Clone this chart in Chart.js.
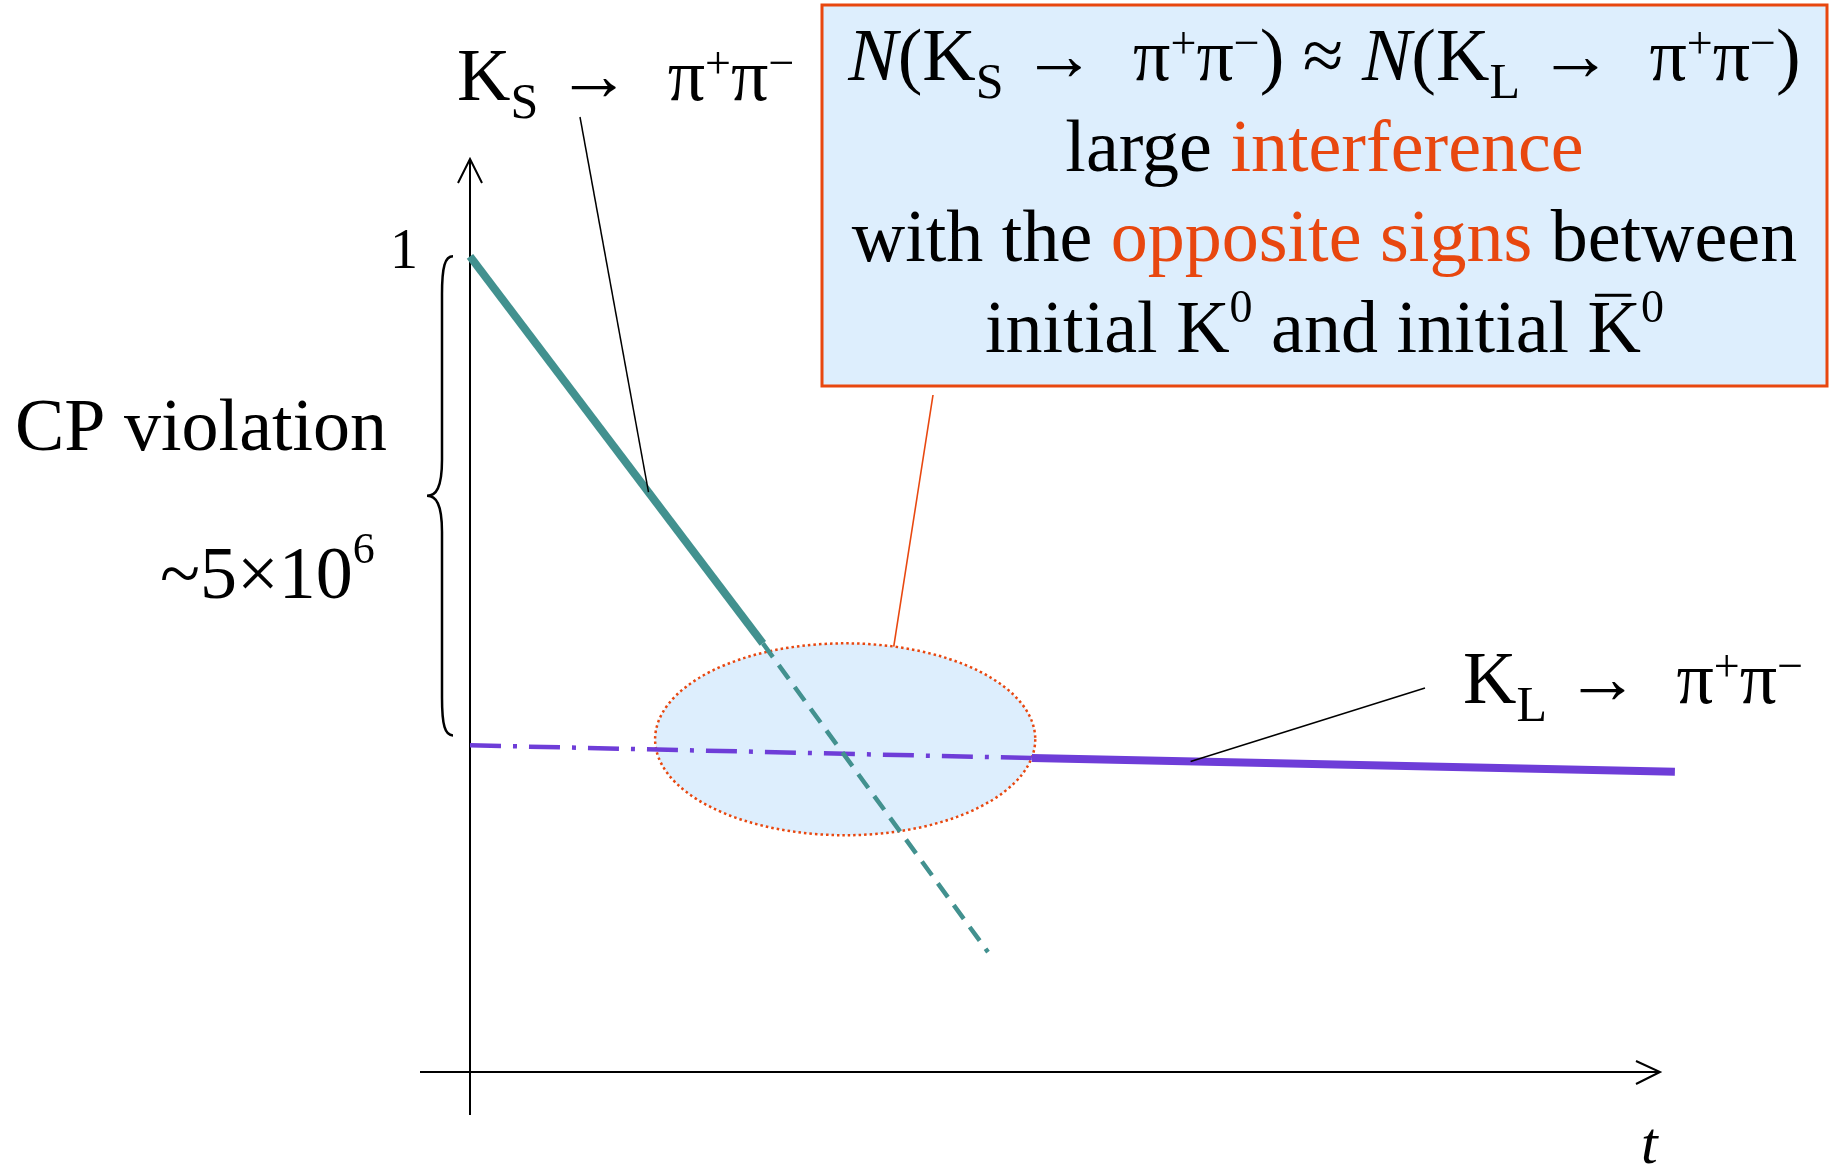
<!DOCTYPE html>
<html lang="en">
<head>
    <meta charset="UTF-8">
    <title>K_S and K_L decays to two pions</title>
    <script src="https://cdn.jsdelivr.net/npm/chart.js"></script>
    <style>
        html, body {
            margin: 0;
            background: #ffffff;
        }
        canvas {
            display: block;
        }
    </style>
</head>
<body>
    <canvas id="decayChart" width="1829" height="1166"></canvas>

    <script>
        // proper time in units of the K_S lifetime, rate relative to K_S at t = 0
        const ksTime = [0, 8.86];
        const ksRate = [1, 1.6e-4];
        const ksTailTime = [8.86, 15.67];
        const ksTailRate = [1.6e-4, 1.5e-7];
        const klEarlyTime = [0, 17.0];
        const klEarlyRate = [1.6e-5, 1.2e-5];
        const klLateTime = [17.0, 36.45];
        const klLateRate = [1.2e-5, 8.8e-6];

        // interference region and the CP violation span
        const overlapTime = [5.6, 17.1];
        const overlapRate = [1.6e-4, 2.1e-6];
        const braceRate = [1, 2.0e-5];

        // where the label leaders touch the curves
        const ksLeaderTime = 5.4;
        const klLeaderTime = 21.8;

        const TEAL = '#42918f';
        const PURPLE = '#6e3dd8';
        const ORANGE = '#e8470f';
        const BOX_FILL = '#ddeefd';
        const SERIF = '"Liberation Serif", "Times New Roman", serif';

        const BIG = 74, SUB = 50, SUP = 46;

        const toPoints = (xs, ys) => xs.map((x, i) => ({ x: x, y: ys[i] }));

        // text runs: plain, subscript, superscript
        const tx = (t, extra) => Object.assign({ t: t, size: BIG }, extra || {});
        const sb = t => ({ t: t, size: SUB, dy: 18 });
        const sp = (t, dy) => ({ t: t, size: SUP, dy: dy || -22 });

        function runFont(r) {
            return (r.italic ? 'italic ' : '') + r.size + 'px ' + SERIF;
        }

        function drawRuns(ctx, runs, x, y, align) {
            let total = 0;
            runs.forEach(r => {
                ctx.font = runFont(r);
                total += ctx.measureText(r.t).width;
            });
            let cx = align === 'center' ? x - total / 2 : align === 'right' ? x - total : x;
            runs.forEach(r => {
                ctx.font = runFont(r);
                ctx.fillStyle = r.color || '#000';
                const w = ctx.measureText(r.t).width;
                ctx.fillText(r.t, cx, y + (r.dy || 0));
                if (r.bar) {
                    ctx.fillRect(cx + w * 0.14, y - r.size * 0.78, w * 0.68, 3);
                }
                cx += w;
            });
        }

        const pionPair = [tx(' \u2192  '), tx('\u03c0'), sp('+'), tx('\u03c0'), sp('\u2212')];

        const ksLabel = [tx('K'), sb('S')].concat(pionPair);
        const klLabel = [tx('K'), sb('L')].concat(pionPair);

        const boxLines = [
            [tx('N', { italic: true }), tx('(K'), sb('S')].concat(pionPair, [tx(') \u2248 '),
                tx('N', { italic: true }), tx('(K'), sb('L')], pionPair, [tx(')')]),
            [tx('large '), tx('interference', { color: ORANGE })],
            [tx('with the '), tx('opposite signs', { color: ORANGE }), tx(' between')],
            [tx('initial K'), sp('0', -30), tx(' and initial '), tx('K', { bar: true }), sp('0', -30)]
        ];

        function lerp(a, b, f) {
            return a + (b - a) * f;
        }

        // pixel position on a straight two-point segment at time t
        function onSegment(xs, ys, scales, t) {
            const x0 = scales.x.getPixelForValue(xs[0]), x1 = scales.x.getPixelForValue(xs[1]);
            const y0 = scales.y.getPixelForValue(ys[0]), y1 = scales.y.getPixelForValue(ys[1]);
            const px = scales.x.getPixelForValue(t);
            return { x: px, y: lerp(y0, y1, (px - x0) / (x1 - x0)) };
        }

        function line(ctx, x0, y0, x1, y1) {
            ctx.beginPath();
            ctx.moveTo(x0, y0);
            ctx.lineTo(x1, y1);
            ctx.stroke();
        }

        function overlapEllipse(scales) {
            const l = scales.x.getPixelForValue(overlapTime[0]);
            const r = scales.x.getPixelForValue(overlapTime[1]);
            const t = scales.y.getPixelForValue(overlapRate[0]);
            const b = scales.y.getPixelForValue(overlapRate[1]);
            return { cx: (l + r) / 2, cy: (t + b) / 2, rx: (r - l) / 2, ry: (b - t) / 2 };
        }

        const diagramPlugin = {
            id: 'diagram',
            beforeDatasetsDraw(chart) {
                const ctx = chart.ctx;
                const area = chart.chartArea;
                const e = overlapEllipse(chart.scales);

                ctx.save();
                // shaded interference region
                ctx.beginPath();
                ctx.ellipse(e.cx, e.cy, e.rx, e.ry, 0, 0, Math.PI * 2);
                ctx.fillStyle = BOX_FILL;
                ctx.fill();
                ctx.setLineDash([2.5, 3]);
                ctx.lineWidth = 2.5;
                ctx.strokeStyle = ORANGE;
                ctx.stroke();
                ctx.setLineDash([]);

                // axes with open arrow heads
                ctx.strokeStyle = '#000';
                ctx.lineWidth = 2;
                line(ctx, area.left, area.top, area.left, area.bottom + 43);
                line(ctx, area.left - 50, area.bottom, area.right, area.bottom);
                ctx.beginPath();
                ctx.moveTo(area.left - 12, area.top + 24);
                ctx.lineTo(area.left, area.top);
                ctx.lineTo(area.left + 12, area.top + 24);
                ctx.moveTo(area.right - 24, area.bottom - 11);
                ctx.lineTo(area.right, area.bottom);
                ctx.lineTo(area.right - 24, area.bottom + 12);
                ctx.stroke();
                ctx.restore();
            },
            afterDatasetsDraw(chart) {
                const ctx = chart.ctx;
                const area = chart.chartArea;
                const scales = chart.scales;
                const e = overlapEllipse(scales);

                ctx.save();
                ctx.textBaseline = 'alphabetic';

                // axis labels
                const yOne = scales.y.getPixelForValue(1);
                drawRuns(ctx, [{ t: '1', size: 56 }], area.left - 52, yOne + 12, 'right');
                drawRuns(ctx, [{ t: 't', size: 60, italic: true }], area.right - 19, 1163, 'left');

                // brace spanning the CP violating ratio
                const bTop = scales.y.getPixelForValue(braceRate[0]);
                const bBot = scales.y.getPixelForValue(braceRate[1]);
                const bMid = (bTop + bBot) / 2;
                const stem = area.left - 28, tip = area.left - 17, cusp = area.left - 43;
                ctx.strokeStyle = '#000';
                ctx.lineWidth = 2.5;
                ctx.beginPath();
                ctx.moveTo(tip, bTop);
                ctx.bezierCurveTo(stem + 3, bTop, stem, bTop + 10, stem, bTop + 38);
                ctx.lineTo(stem, bMid - 36);
                ctx.bezierCurveTo(stem, bMid - 8, stem - 6, bMid, cusp, bMid);
                ctx.bezierCurveTo(stem - 6, bMid, stem, bMid + 8, stem, bMid + 36);
                ctx.lineTo(stem, bBot - 38);
                ctx.bezierCurveTo(stem, bBot - 10, stem + 3, bBot, tip, bBot);
                ctx.stroke();

                drawRuns(ctx, [tx('CP violation')], 15, 450, 'left');
                drawRuns(ctx, [tx('~5\u00d710'), { t: '6', size: 44, dy: -35 }], 160, 598, 'left');

                // decay mode labels with leaders
                drawRuns(ctx, ksLabel, 457, 100, 'left');
                drawRuns(ctx, klLabel, 1463, 703, 'left');
                ctx.lineWidth = 1.5;
                const ksHit = onSegment(ksTime, ksRate, scales, ksLeaderTime);
                line(ctx, 580, 117, ksHit.x, ksHit.y);
                const klHit = onSegment(klLateTime, klLateRate, scales, klLeaderTime);
                line(ctx, 1425, 688, klHit.x, klHit.y);

                // explanation box and its pointer to the interference region
                const box = { left: 822, top: 5, right: 1827, bottom: 386 };
                const ang = -75.2 * Math.PI / 180;
                ctx.strokeStyle = ORANGE;
                ctx.lineWidth = 1.6;
                line(ctx, e.cx + e.rx * Math.cos(ang), e.cy + e.ry * Math.sin(ang), 933, box.bottom + 9);

                ctx.fillStyle = BOX_FILL;
                ctx.fillRect(box.left, box.top, box.right - box.left, box.bottom - box.top);
                ctx.lineWidth = 3;
                ctx.strokeRect(box.left, box.top, box.right - box.left, box.bottom - box.top);
                const mid = (box.left + box.right) / 2;
                boxLines.forEach((runs, i) => {
                    drawRuns(ctx, runs, mid, 80 + i * 90.5, 'center');
                });
                ctx.restore();
            }
        };

        const ctx = document.getElementById('decayChart').getContext('2d');
        new Chart(ctx, {
            type: 'line',
            data: {
                datasets: [
                    {
                        label: 'K_S decay',
                        data: toPoints(ksTime, ksRate),
                        borderColor: TEAL,
                        borderWidth: 8
                    },
                    {
                        label: 'K_S decay, extrapolated',
                        data: toPoints(ksTailTime, ksTailRate),
                        borderColor: TEAL,
                        borderWidth: 4.5,
                        borderDash: [17, 10]
                    },
                    {
                        label: 'K_L decay, hidden under K_S',
                        data: toPoints(klEarlyTime, klEarlyRate),
                        borderColor: PURPLE,
                        borderWidth: 4.5,
                        borderDash: [31, 12, 4, 12]
                    },
                    {
                        label: 'K_L decay',
                        data: toPoints(klLateTime, klLateRate),
                        borderColor: PURPLE,
                        borderWidth: 8
                    }
                ]
            },
            options: {
                responsive: false,
                animation: false,
                events: [],
                layout: {
                    padding: { left: 470, top: 159, right: 169, bottom: 94 }
                },
                datasets: {
                    line: { pointRadius: 0, tension: 0, clip: false, borderCapStyle: 'butt', fill: false }
                },
                plugins: {
                    legend: { display: false },
                    tooltip: { enabled: false }
                },
                scales: {
                    x: { type: 'linear', min: 0, max: 36, display: false },
                    y: { type: 'logarithmic', min: 1e-8, max: 9, display: false }
                }
            },
            plugins: [diagramPlugin]
        });
    </script>
</body>
</html>
